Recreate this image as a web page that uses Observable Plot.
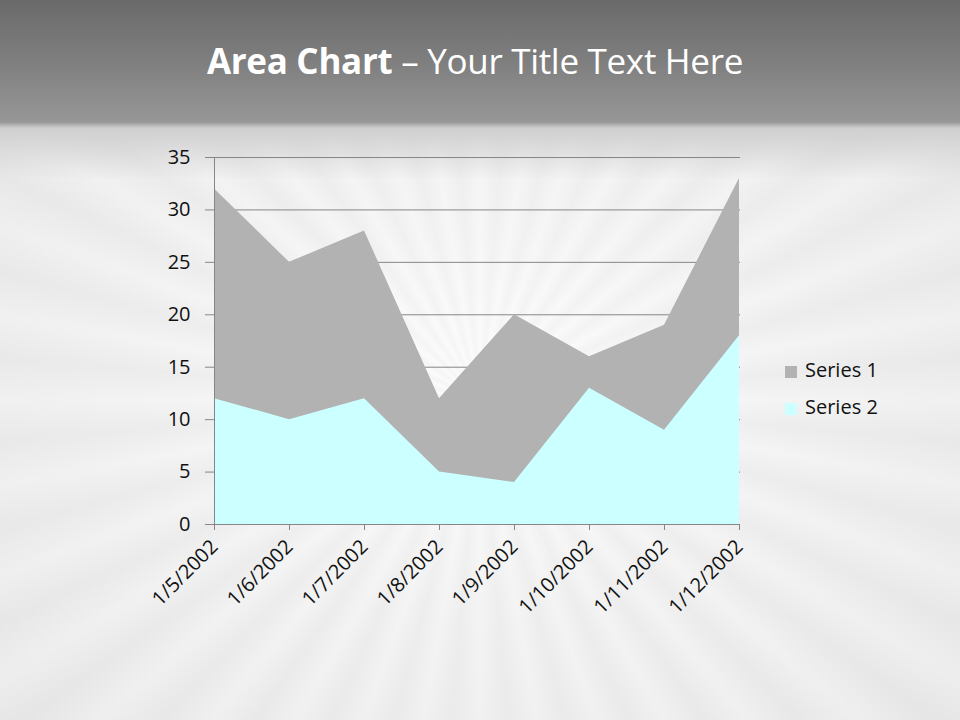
<!DOCTYPE html>
<html>
<head>
<meta charset="utf-8">
<script src="https://cdn.jsdelivr.net/npm/d3@7"></script>
<script src="https://cdn.jsdelivr.net/npm/@observablehq/plot@0.6"></script>
<style>
  html, body { margin: 0; padding: 0; }
  body {
    width: 960px; height: 720px; overflow: hidden; position: relative;
    font-family: "Open Sans", Lato, sans-serif;
    background:
      linear-gradient(to bottom, #6a6a6a 0px, #7e7e7e 60px, #979797 122px, #cfcfcf 128px, rgba(230,230,230,0) 180px),
      repeating-conic-gradient(from 0deg at 480px 400px, rgba(255,255,255,0.25) 0deg, rgba(215,215,215,0.12) 5deg, rgba(255,255,255,0.25) 10deg),
      radial-gradient(ellipse at 480px 380px, #fbfbfb 0%, #f0f0f0 45%, #e6e6e6 100%);
  }
  #title {
    position: absolute; left: -5px; top: 37px; width: 960px; text-align: center;
    color: #ffffff; font-size: 35px; font-family: "Open Sans", Lato, sans-serif;
    letter-spacing: -0.3px;
  }
  #title b { font-weight: 700; }
  #title span { font-weight: 400; }
  #chart { position: absolute; left: 0; top: 0; }
  #chart svg text { font-size: 20px !important; fill: #111; }
  .legend { position: absolute; left: 785px; font-size: 20px; color: #111; font-family: "Open Sans", Lato, sans-serif; }
  .legend i { display: inline-block; width: 12px; height: 12px; margin-right: 8px; vertical-align: -1px; }
</style>
</head>
<body>
<div id="title"><b>Area Chart</b><span> – Your Title Text Here</span></div>
<div id="chart"></div>
<div class="legend" style="top:356px"><i style="background:#b2b2b2"></i>Series 1</div>
<div class="legend" style="top:393px"><i style="background:#ccffff"></i>Series 2</div>
<script>
const dates = ["1/5/2002", "1/6/2002", "1/7/2002", "1/8/2002", "1/9/2002", "1/10/2002", "1/11/2002", "1/12/2002"];
const series1 = [32, 25, 28, 12, 20, 16, 19, 33];
const series2 = [12, 10, 12, 5, 4, 13, 9, 18];
const yTicks = [0, 5, 10, 15, 20, 25, 30, 35];

const s1 = dates.map((d, i) => ({date: d, value: series1[i]}));
const s2 = dates.map((d, i) => ({date: d, value: series2[i]}));

const chart = Plot.plot({
  width: 960,
  height: 720,
  marginLeft: 212,
  marginRight: 220,
  marginTop: 157,
  marginBottom: 196,
  style: {background: "transparent", fontFamily: "'Open Sans', Lato, sans-serif", fontSize: "20px", color: "#111"},
  x: {type: "point", domain: dates, padding: 0},
  y: {domain: [0, 35]},
  marks: [
    Plot.ruleY(yTicks, {stroke: "#868686", strokeWidth: 1}),
    Plot.areaY(s1, {x: "date", y1: 0, y2: "value", fill: "#b2b2b2"}),
    Plot.areaY(s2, {x: "date", y1: 0, y2: "value", fill: "#ccffff"}),
    Plot.ruleX([dates[0]], {stroke: "#868686"}),
    Plot.ruleY([0], {stroke: "#868686"}),
    Plot.axisY({ticks: yTicks, tickSize: 7, tickPadding: 15, stroke: "#868686", label: null}),
    Plot.axisX({tickSize: 6, tickRotate: -45, tickPadding: 13, stroke: "#868686", label: null})
  ]
});
document.getElementById("chart").appendChild(chart);
</script>
</body>
</html>
